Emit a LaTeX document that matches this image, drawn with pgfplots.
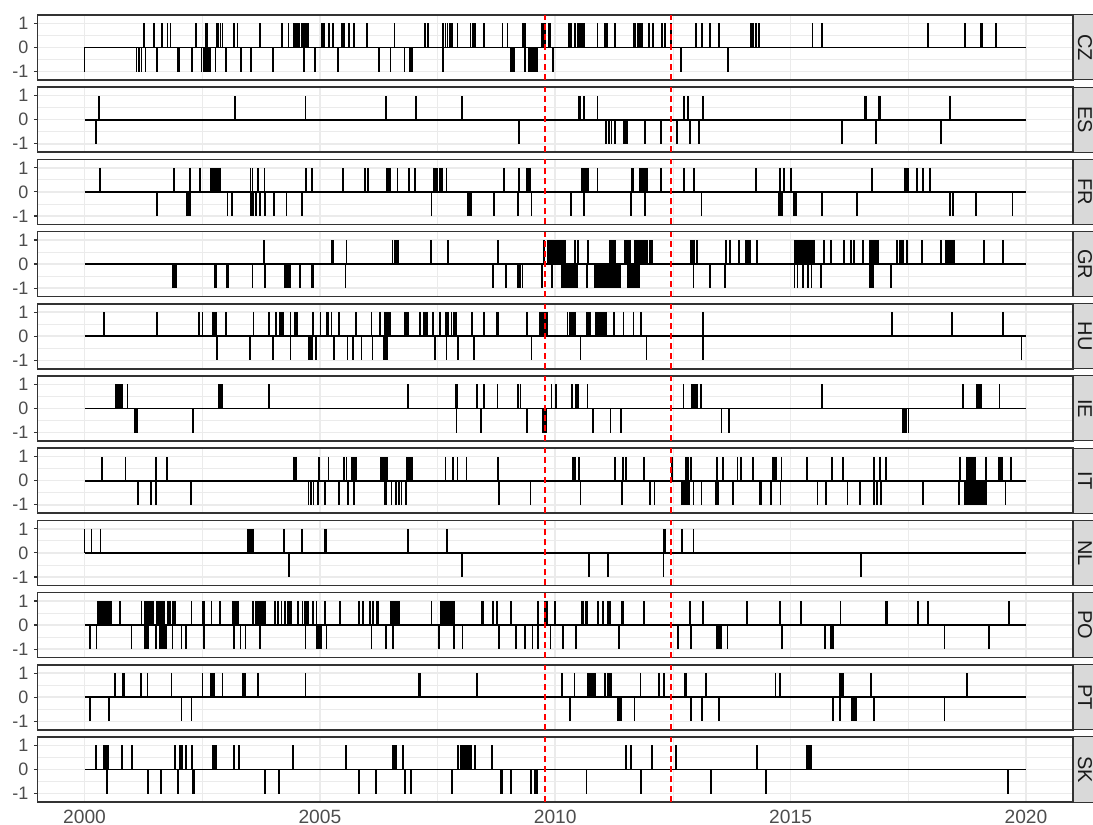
\documentclass[border=0pt]{standalone}
\usepackage{fontspec}
\setmainfont{Liberation Sans}
\usepackage{pgfplots}
\pgfplotsset{compat=1.18}

\definecolor{gray92}{HTML}{EBEBEB}
\definecolor{gray85}{HTML}{D9D9D9}
\definecolor{gray30}{HTML}{4D4D4D}
\definecolor{gray20}{HTML}{333333}
\definecolor{gray10}{HTML}{1A1A1A}

\pgfplotsset{
  panel/.style={
    scale only axis, width=517.75pt, height=32.5pt, anchor=north west,
    xmin=1999, xmax=2021, ymin=-1.35, ymax=1.35,
    xtick={2000,2005,2010,2015,2020},
    minor xtick={2002.5,2007.5,2012.5,2017.5},
    ytick={-1,0,1}, yticklabels={-1,0,1},
    minor ytick={-0.5,0.5},
    grid=both,
    major grid style={gray92, line width=0.8pt},
    minor grid style={gray92, line width=0.4pt},
    axis line style={gray20, line width=0.8pt},
    tick pos=left, tick align=outside,
    major tick length=1.8pt, minor tick length=0pt,
    tick style={gray20, line width=0.6pt},
    /pgf/number format/assume math mode=true,
    yticklabel style={font=\fontsize{9}{10}\selectfont, text=gray30, inner sep=0pt, xshift=-2.6pt},
    xticklabel style={font=\fontsize{9.6}{10}\selectfont, text=gray30, inner sep=0pt, yshift=-2.2pt},
    xticklabels={}, xtick style={draw=none},
  },
  bottompanel/.style={
    xticklabels={2000,2005,2010,2015,2020},
    xtick style={gray20, line width=0.6pt},
  },
  vline/.style={red, line width=1pt, dash pattern=on 3pt off 2pt},
  spike/.style={ycomb, black, line width=0.9pt},
}

% #1 top edge (pt), #2 strip label, #3 spikes, #4 extra axis options
\newcommand{\panel}[4]{%
  \begin{axis}[panel, name=cur, at={(18.75pt,#1pt)}, #4]
    \addplot[black, line width=0.9pt] coordinates {(2000,0) (2020,0)};
    \addplot[spike] coordinates {#3};
    \addplot[vline] coordinates {(2009.78,-1.35) (2009.78,1.35)};
    \addplot[vline] coordinates {(2012.46,-1.35) (2012.46,1.35)};
  \end{axis}
  \draw[gray20, fill=gray85, line width=0.5pt] (cur.north east) rectangle ([xshift=12.5pt]cur.south east);
  \node[rotate=-90, text=gray10, font=\fontsize{10}{12}\selectfont] at ([xshift=6pt]cur.east) {#2};
}

\begin{document}
\begin{tikzpicture}

\panel{405}{CZ}{
(2001.268,1)(2001.473,1)(2001.650,1)(2001.763,1)(2001.827,1)(2002.365,1)(2002.578,1)(2002.613,1)(2002.812,1)(2002.847,1)
(2002.890,1)(2002.932,1)(2003.180,1)(2003.251,1)(2003.725,1)(2004.193,1)(2004.334,1)(2004.455,1)(2004.483,1)(2004.518,1)
(2004.554,1)(2004.610,1)(2004.646,1)(2004.688,1)(2004.724,1)(2004.759,1)(2005.050,1)(2005.085,1)(2005.191,1)(2005.283,1)
(2005.475,1)(2005.517,1)(2005.623,1)(2005.722,1)(2006.006,1)(2006.586,1)(2007.231,1)(2007.302,1)(2007.620,1)(2007.670,1)
(2007.712,1)(2007.762,1)(2007.812,1)(2007.925,1)(2008.201,1)(2008.244,1)(2008.293,1)(2008.484,1)(2008.881,1)(2008.987,1)
(2009.320,1)(2009.363,1)(2009.712,1)(2009.750,1)(2009.787,1)(2009.862,1)(2009.900,1)(2010.297,1)(2010.334,1)(2010.424,1)
(2010.484,1)(2010.522,1)(2010.559,1)(2010.597,1)(2010.619,1)(2010.896,1)(2011.061,1)(2011.099,1)(2011.271,1)(2011.661,1)
(2011.698,1)(2011.758,1)(2011.796,1)(2011.848,1)(2011.998,1)(2012.073,1)(2012.260,1)(2012.335,1)(2012.463,1)(2012.995,1)
(2013.122,1)(2013.294,1)(2013.482,1)(2014.156,1)(2014.208,1)(2014.261,1)(2014.336,1)(2015.467,1)(2015.670,1)(2017.918,1)
(2018.704,1)(2019.042,1)(2019.079,1)(2019.364,1)
(2000.000,-1)(2001.105,-1)(2001.161,-1)(2001.211,-1)(2001.296,-1)(2001.544,-1)(2001.976,-1)(2002.011,-1)(2002.288,-1)(2002.486,-1)
(2002.528,-1)(2002.557,-1)(2002.592,-1)(2002.627,-1)(2002.663,-1)(2002.783,-1)(2003.003,-1)(2003.329,-1)(2003.541,-1)(2004.001,-1)
(2004.660,-1)(2004.901,-1)(2005.382,-1)(2006.254,-1)(2006.501,-1)(2006.799,-1)(2006.912,-1)(2006.962,-1)(2007.620,-1)(2009.058,-1)
(2009.093,-1)(2009.122,-1)(2009.356,-1)(2009.448,-1)(2009.476,-1)(2009.511,-1)(2009.547,-1)(2009.589,-1)(2009.618,-1)(2009.952,-1)
(2012.672,-1)(2013.662,-1)
}{}

\panel{368.9}{ES}{
(2000.305,1)(2003.201,1)(2004.695,1)(2006.402,1)(2007.040,1)(2008.017,1)(2010.499,1)(2010.537,1)(2010.612,1)(2010.896,1)
(2012.732,1)(2012.822,1)(2013.137,1)(2016.569,1)(2016.606,1)(2016.884,1)(2016.906,1)(2018.390,1)
(2000.241,-1)(2009.235,-1)(2011.084,-1)(2011.136,-1)(2011.196,-1)(2011.264,-1)(2011.458,-1)(2011.488,-1)(2011.518,-1)(2011.908,-1)
(2012.245,-1)(2012.582,-1)(2012.860,-1)(2013.062,-1)(2016.097,-1)(2016.809,-1)(2018.195,-1)
}{}

\panel{332.8}{FR}{
(2000.326,1)(2001.905,1)(2002.238,1)(2002.450,1)(2002.684,1)(2002.720,1)(2002.755,1)(2002.790,1)(2002.826,1)(2002.861,1)
(2002.890,1)(2003.527,1)(2003.569,1)(2003.690,1)(2003.824,1)(2004.703,1)(2004.837,1)(2005.496,1)(2005.956,1)(2006.027,1)
(2006.416,1)(2006.452,1)(2006.487,1)(2006.650,1)(2006.891,1)(2007.018,1)(2007.422,1)(2007.465,1)(2007.500,1)(2007.550,1)
(2007.599,1)(2007.691,1)(2008.909,1)(2009.228,1)(2009.405,1)(2009.441,1)(2009.476,1)(2010.574,1)(2010.604,1)(2010.634,1)
(2010.664,1)(2010.694,1)(2010.896,1)(2011.623,1)(2011.661,1)(2011.796,1)(2011.833,1)(2011.871,1)(2011.908,1)(2011.946,1)
(2012.245,1)(2012.732,1)(2012.950,1)(2014.261,1)(2014.771,1)(2014.868,1)(2015.010,1)(2016.734,1)(2017.431,1)(2017.468,1)
(2017.506,1)(2017.693,1)(2017.821,1)(2017.955,1)
(2001.537,-1)(2002.181,-1)(2002.217,-1)(2002.252,-1)(2003.038,-1)(2003.137,-1)(2003.534,-1)(2003.584,-1)(2003.640,-1)(2003.725,-1)
(2003.831,-1)(2004.023,-1)(2004.292,-1)(2004.618,-1)(2007.372,-1)(2008.152,-1)(2008.187,-1)(2008.222,-1)(2008.704,-1)(2009.214,-1)
(2009.497,-1)(2010.334,-1)(2010.612,-1)(2011.608,-1)(2011.908,-1)(2013.107,-1)(2014.756,-1)(2014.786,-1)(2014.816,-1)(2015.070,-1)
(2015.123,-1)(2015.670,-1)(2016.419,-1)(2018.390,-1)(2018.442,-1)(2018.944,-1)(2019.716,-1)
}{}

\panel{296.7}{GR}{
(2003.817,1)(2005.248,1)(2005.283,1)(2005.567,1)(2006.544,1)(2006.594,1)(2006.629,1)(2006.664,1)(2007.358,1)(2007.727,1)
(2008.789,1)(2009.765,1)(2009.840,1)(2009.885,1)(2009.937,1)(2009.975,1)(2010.012,1)(2010.050,1)(2010.087,1)(2010.125,1)
(2010.162,1)(2010.215,1)(2010.424,1)(2010.484,1)(2010.702,1)(2011.159,1)(2011.189,1)(2011.219,1)(2011.249,1)(2011.279,1)
(2011.488,1)(2011.518,1)(2011.548,1)(2011.586,1)(2011.683,1)(2011.713,1)(2011.743,1)(2011.773,1)(2011.803,1)(2011.833,1)
(2011.863,1)(2011.893,1)(2011.923,1)(2011.961,1)(2012.013,1)(2012.058,1)(2012.882,1)(2012.912,1)(2012.942,1)(2013.010,1)
(2013.632,1)(2013.721,1)(2013.909,1)(2014.059,1)(2014.096,1)(2014.134,1)(2014.283,1)(2015.085,1)(2015.115,1)(2015.145,1)
(2015.175,1)(2015.205,1)(2015.235,1)(2015.265,1)(2015.295,1)(2015.325,1)(2015.355,1)(2015.385,1)(2015.415,1)(2015.445,1)
(2015.475,1)(2015.505,1)(2015.707,1)(2015.857,1)(2016.134,1)(2016.284,1)(2016.344,1)(2016.532,1)(2016.681,1)(2016.719,1)
(2016.756,1)(2016.794,1)(2016.831,1)(2016.869,1)(2017.258,1)(2017.318,1)(2017.356,1)(2017.393,1)(2017.468,1)(2017.790,1)
(2018.203,1)(2018.292,1)(2018.330,1)(2018.367,1)(2018.405,1)(2018.442,1)(2018.480,1)(2019.102,1)(2019.506,1)
(2001.884,-1)(2001.912,-1)(2001.941,-1)(2002.769,-1)(2002.805,-1)(2003.017,-1)(2003.052,-1)(2003.569,-1)(2003.831,-1)(2004.256,-1)
(2004.292,-1)(2004.327,-1)(2004.363,-1)(2004.575,-1)(2004.823,-1)(2004.858,-1)(2005.545,-1)(2008.683,-1)(2008.952,-1)(2009.214,-1)
(2009.249,-1)(2009.306,-1)(2009.712,-1)(2009.937,-1)(2010.140,-1)(2010.170,-1)(2010.200,-1)(2010.230,-1)(2010.259,-1)(2010.289,-1)
(2010.319,-1)(2010.349,-1)(2010.379,-1)(2010.409,-1)(2010.439,-1)(2010.469,-1)(2010.672,-1)(2010.836,-1)(2010.874,-1)(2010.911,-1)
(2010.949,-1)(2010.986,-1)(2011.024,-1)(2011.061,-1)(2011.099,-1)(2011.136,-1)(2011.174,-1)(2011.211,-1)(2011.249,-1)(2011.286,-1)
(2011.324,-1)(2011.361,-1)(2011.384,-1)(2011.548,-1)(2011.586,-1)(2011.623,-1)(2011.661,-1)(2011.698,-1)(2011.736,-1)(2011.773,-1)
(2012.935,-1)(2013.287,-1)(2013.609,-1)(2015.085,-1)(2015.145,-1)(2015.258,-1)(2015.370,-1)(2015.445,-1)(2015.647,-1)(2016.681,-1)
(2016.704,-1)(2016.726,-1)(2016.749,-1)(2017.131,-1)
}{}

\panel{260.6}{HU}{
(2000.418,1)(2001.544,1)(2002.436,1)(2002.507,1)(2002.734,1)(2002.769,1)(2002.805,1)(2003.003,1)(2003.591,1)(2003.924,1)
(2004.065,1)(2004.150,1)(2004.186,1)(2004.221,1)(2004.377,1)(2004.469,1)(2004.518,1)(2004.858,1)(2005.014,1)(2005.142,1)
(2005.177,1)(2005.248,1)(2005.411,1)(2005.765,1)(2006.098,1)(2006.275,1)(2006.381,1)(2006.416,1)(2006.452,1)(2006.487,1)
(2006.806,1)(2006.841,1)(2006.877,1)(2007.125,1)(2007.210,1)(2007.252,1)(2007.280,1)(2007.408,1)(2007.550,1)(2007.677,1)
(2007.727,1)(2007.797,1)(2007.854,1)(2007.890,1)(2008.237,1)(2008.484,1)(2008.754,1)(2008.789,1)(2009.405,1)(2009.674,1)
(2009.712,1)(2009.750,1)(2009.787,1)(2009.825,1)(2010.259,1)(2010.312,1)(2010.349,1)(2010.387,1)(2010.424,1)(2010.672,1)
(2010.709,1)(2010.747,1)(2010.859,1)(2010.896,1)(2010.934,1)(2010.971,1)(2011.009,1)(2011.046,1)(2011.084,1)(2011.249,1)
(2011.451,1)(2011.661,1)(2011.826,1)(2013.144,1)(2017.153,1)(2018.428,1)(2019.506,1)
(2002.812,-1)(2003.513,-1)(2004.001,-1)(2004.377,-1)(2004.773,-1)(2004.802,-1)(2004.837,-1)(2004.915,-1)(2005.305,-1)(2005.588,-1)
(2005.708,-1)(2005.885,-1)(2006.119,-1)(2006.360,-1)(2006.388,-1)(2006.431,-1)(2007.443,-1)(2007.691,-1)(2007.939,-1)(2008.279,-1)
(2009.497,-1)(2010.537,-1)(2011.938,-1)(2013.137,-1)(2019.904,-1)
}{}

\panel{224.5}{IE}{
(2000.666,1)(2000.701,1)(2000.737,1)(2000.772,1)(2000.807,1)(2000.914,1)(2002.861,1)(2002.897,1)(2002.932,1)(2003.924,1)
(2006.877,1)(2007.890,1)(2007.925,1)(2008.329,1)(2008.484,1)(2008.775,1)(2009.214,1)(2009.263,1)(2009.922,1)(2010.012,1)
(2010.349,1)(2010.447,1)(2010.484,1)(2010.687,1)(2012.725,1)(2012.897,1)(2012.927,1)(2012.957,1)(2012.987,1)(2013.017,1)
(2013.092,1)(2015.670,1)(2018.667,1)(2018.967,1)(2019.004,1)(2019.042,1)(2019.439,1)
(2001.069,-1)(2001.091,-1)(2001.112,-1)(2002.309,-1)(2007.904,-1)(2008.421,-1)(2009.405,-1)(2009.745,-1)(2009.766,-1)(2009.788,-1)
(2009.816,-1)(2010.799,-1)(2011.174,-1)(2011.399,-1)(2013.534,-1)(2013.684,-1)(2017.378,-1)(2017.416,-1)(2017.453,-1)(2017.506,-1)
}{}

\panel{188.4}{IT}{
(2000.368,1)(2000.871,1)(2001.523,1)(2001.756,1)(2004.455,1)(2004.490,1)(2004.986,1)(2005.184,1)(2005.517,1)(2005.567,1)
(2005.673,1)(2005.708,1)(2005.744,1)(2005.779,1)(2006.289,1)(2006.324,1)(2006.360,1)(2006.395,1)(2006.431,1)(2006.841,1)
(2006.877,1)(2006.912,1)(2006.948,1)(2007.670,1)(2007.833,1)(2007.925,1)(2008.116,1)(2008.789,1)(2010.372,1)(2010.424,1)
(2010.499,1)(2011.271,1)(2011.436,1)(2011.511,1)(2011.886,1)(2012.485,1)(2012.770,1)(2012.822,1)(2012.882,1)(2013.444,1)
(2013.572,1)(2013.871,1)(2013.946,1)(2014.208,1)(2014.621,1)(2014.658,1)(2014.696,1)(2014.808,1)(2015.348,1)(2015.880,1)
(2016.119,1)(2016.779,1)(2016.906,1)(2017.033,1)(2018.592,1)(2018.742,1)(2018.779,1)(2018.817,1)(2018.854,1)(2018.892,1)
(2018.929,1)(2019.154,1)(2019.416,1)(2019.454,1)(2019.491,1)(2019.679,1)
(2001.140,-1)(2001.409,-1)(2001.516,-1)(2002.266,-1)(2004.759,-1)(2004.809,-1)(2004.865,-1)(2004.965,-1)(2005.113,-1)(2005.411,-1)
(2005.602,-1)(2005.722,-1)(2006.381,-1)(2006.416,-1)(2006.523,-1)(2006.615,-1)(2006.686,-1)(2006.735,-1)(2006.827,-1)(2008.803,-1)
(2009.476,-1)(2010.537,-1)(2011.421,-1)(2012.020,-1)(2012.110,-1)(2012.695,-1)(2012.732,-1)(2012.770,-1)(2012.807,-1)(2012.845,-1)
(2012.935,-1)(2013.107,-1)(2013.422,-1)(2013.459,-1)(2013.781,-1)(2014.358,-1)(2014.381,-1)(2014.583,-1)(2014.786,-1)(2015.572,-1)
(2015.760,-1)(2016.209,-1)(2016.479,-1)(2016.779,-1)(2016.831,-1)(2016.929,-1)(2017.805,-1)(2018.577,-1)(2018.704,-1)(2018.742,-1)
(2018.779,-1)(2018.817,-1)(2018.854,-1)(2018.892,-1)(2018.929,-1)(2018.967,-1)(2019.004,-1)(2019.042,-1)(2019.079,-1)(2019.117,-1)
(2019.154,-1)(2019.566,-1)
}{}

\panel{152.3}{NL}{
(2000.000,1)(2000.149,1)(2000.340,1)(2003.477,1)(2003.513,1)(2003.548,1)(2003.584,1)(2004.235,1)(2004.625,1)(2005.106,1)
(2005.142,1)(2006.877,1)(2007.705,1)(2012.298,1)(2012.335,1)(2012.687,1)(2012.935,1)
(2004.348,-1)(2008.017,-1)(2010.709,-1)(2011.121,-1)(2012.298,-1)(2016.494,-1)
}{}

\panel{116.2}{PO}{
(2000.290,1)(2000.326,1)(2000.361,1)(2000.397,1)(2000.432,1)(2000.467,1)(2000.503,1)(2000.538,1)(2000.574,1)(2000.751,1)
(2001.211,1)(2001.282,1)(2001.317,1)(2001.353,1)(2001.388,1)(2001.424,1)(2001.459,1)(2001.544,1)(2001.572,1)(2001.601,1)
(2001.629,1)(2001.657,1)(2001.686,1)(2001.778,1)(2001.813,1)(2001.884,1)(2001.919,1)(2002.273,1)(2002.507,1)(2002.535,1)
(2002.698,1)(2002.875,1)(2003.144,1)(2003.173,1)(2003.201,1)(2003.229,1)(2003.258,1)(2003.584,1)(2003.640,1)(2003.690,1)
(2003.725,1)(2003.761,1)(2003.796,1)(2003.831,1)(2004.044,1)(2004.115,1)(2004.186,1)(2004.256,1)(2004.327,1)(2004.363,1)
(2004.398,1)(2004.540,1)(2004.632,1)(2004.681,1)(2004.717,1)(2004.752,1)(2004.858,1)(2004.929,1)(2005.106,1)(2005.425,1)
(2005.836,1)(2005.907,1)(2006.062,1)(2006.133,1)(2006.204,1)(2006.239,1)(2006.508,1)(2006.537,1)(2006.565,1)(2006.593,1)
(2006.622,1)(2006.650,1)(2006.678,1)(2007.372,1)(2007.564,1)(2007.592,1)(2007.620,1)(2007.649,1)(2007.677,1)(2007.705,1)
(2007.734,1)(2007.762,1)(2007.790,1)(2007.819,1)(2007.847,1)(2008.435,1)(2008.470,1)(2008.683,1)(2008.768,1)(2009.058,1)
(2009.639,1)(2009.787,1)(2009.825,1)(2009.990,1)(2010.559,1)(2010.597,1)(2010.649,1)(2010.687,1)(2010.911,1)(2011.009,1)
(2011.121,1)(2011.159,1)(2011.414,1)(2011.451,1)(2011.886,1)(2012.860,1)(2013.144,1)(2014.081,1)(2014.771,1)(2015.220,1)
(2016.059,1)(2017.018,1)(2017.056,1)(2017.708,1)(2017.918,1)(2019.641,1)
(2000.113,-1)(2000.255,-1)(2000.999,-1)(2001.282,-1)(2001.317,-1)(2001.353,-1)(2001.516,-1)(2001.601,-1)(2001.636,-1)(2001.671,-1)
(2001.707,-1)(2001.742,-1)(2001.870,-1)(2002.061,-1)(2002.153,-1)(2002.535,-1)(2003.173,-1)(2003.314,-1)(2003.421,-1)(2003.725,-1)
(2004.695,-1)(2004.943,-1)(2004.972,-1)(2005.000,-1)(2005.028,-1)(2005.142,-1)(2006.098,-1)(2006.402,-1)(2006.558,-1)(2007.528,-1)
(2007.847,-1)(2008.031,-1)(2008.810,-1)(2009.164,-1)(2009.356,-1)(2009.518,-1)(2009.639,-1)(2009.900,-1)(2010.162,-1)(2010.447,-1)
(2011.361,-1)(2012.597,-1)(2012.620,-1)(2012.882,-1)(2013.444,-1)(2013.467,-1)(2013.489,-1)(2013.512,-1)(2013.534,-1)(2013.661,-1)
(2014.823,-1)(2015.730,-1)(2015.865,-1)(2015.895,-1)(2018.270,-1)(2019.214,-1)
}{}

\panel{80.1}{PT}{
(2000.644,1)(2000.807,1)(2000.836,1)(2001.197,1)(2001.338,1)(2001.848,1)(2002.507,1)(2002.684,1)(2002.720,1)(2002.755,1)
(2002.932,1)(2003.357,1)(2003.385,1)(2003.414,1)(2003.690,1)(2004.695,1)(2007.103,1)(2007.125,1)(2008.329,1)(2010.140,1)
(2010.409,1)(2010.687,1)(2010.724,1)(2010.762,1)(2010.799,1)(2010.836,1)(2011.061,1)(2011.121,1)(2011.159,1)(2011.196,1)
(2011.811,1)(2012.208,1)(2012.313,1)(2012.762,1)(2012.785,1)(2013.197,1)(2014.681,1)(2014.771,1)(2016.044,1)(2016.082,1)
(2016.119,1)(2016.704,1)(2018.742,1)
(2000.113,-1)(2000.517,-1)(2002.061,-1)(2002.273,-1)(2010.312,-1)(2011.324,-1)(2011.361,-1)(2011.399,-1)(2011.683,-1)(2012.882,-1)
(2013.122,-1)(2013.474,-1)(2015.895,-1)(2016.044,-1)(2016.307,-1)(2016.344,-1)(2016.397,-1)(2016.779,-1)(2018.270,-1)
}{}

\panel{44}{SK}{
(2000.250,1)(2000.417,1)(2000.455,1)(2000.493,1)(2000.797,1)(2001.009,1)(2001.920,1)(2002.033,1)(2002.071,1)(2002.147,1)
(2002.276,1)(2002.716,1)(2002.739,1)(2002.762,1)(2002.785,1)(2003.171,1)(2003.285,1)(2004.423,1)(2005.546,1)(2006.548,1)
(2006.571,1)(2006.594,1)(2006.616,1)(2006.760,1)(2007.936,1)(2007.989,1)(2008.042,1)(2008.080,1)(2008.111,1)(2008.141,1)
(2008.171,1)(2008.217,1)(2008.293,1)(2008.657,1)(2011.511,1)(2011.608,1)(2012.058,1)(2012.560,1)(2014.283,1)(2015.355,1)
(2015.385,1)(2015.430,1)
(2000.478,-1)(2001.351,-1)(2001.616,-1)(2001.980,-1)(2001.995,-1)(2002.299,-1)(2002.337,-1)(2003.832,-1)(2004.135,-1)(2005.827,-1)
(2006.184,-1)(2006.813,-1)(2006.927,-1)(2007.800,-1)(2008.847,-1)(2008.862,-1)(2009.052,-1)(2009.492,-1)(2009.568,-1)(2009.605,-1)
(2010.664,-1)(2011.826,-1)(2013.302,-1)(2014.471,-1)(2019.619,-1)
}{bottompanel}

\pgfresetboundingbox
\path[use as bounding box] (0,0) rectangle (546.5pt,412.5pt);
\end{tikzpicture}
\end{document}
